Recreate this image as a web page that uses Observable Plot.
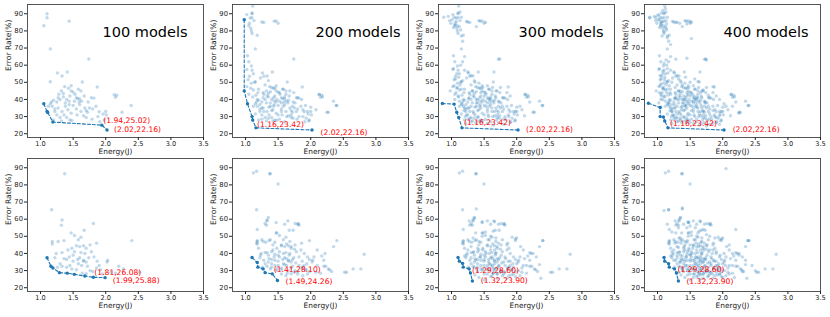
<!DOCTYPE html>
<html><head><meta charset="utf-8">
<script src="https://cdn.jsdelivr.net/npm/d3@7"></script>
<script src="https://cdn.jsdelivr.net/npm/@observablehq/plot@0.6"></script>
<style>
html,body{margin:0;padding:0;background:#fff;}
#wrap{position:relative;width:830px;height:317px;overflow:hidden;background:#fff;font-family:"DejaVu Sans",sans-serif;}
#wrap svg{position:absolute;}
</style></head>
<body><div id="wrap"></div>
<script>
// ---------- data: [energy (J), error rate (%)] ----------
const titles = ["100 models", "200 models", "300 models", "400 models"];
const xTicks = [1.0, 1.5, 2.0, 2.5, 3.0, 3.5];
const yTicks = [20, 30, 40, 50, 60, 70, 80, 90];

// top row: sampled models, added in batches of 100
const topBatch1 = [[1.10,90],[1.10,87.7],[1.05,83],[1.44,85.7],[1.15,69.5],[1.74,63.6],[1.26,55.5],[1.41,56],[1.33,53.7],[1.15,50.3],[1.64,50.2],[1.87,47.3],[1.47,48],[1.37,47.5],[1.43,46.5],[1.58,46],[1.47,45],[1.50,44.3],[1.32,45],[1.28,43],[2.13,42.8],[2.17,42.5],[2.15,41.3],[2.39,36.5],[2.25,32.5],[2.0,33],[1.78,41],[1.82,40.8],[1.57,40.5],[1.60,40.3],[1.55,41],[1.52,39],[1.44,39],[1.40,40],[1.38,38],[1.35,41.5],[1.30,40],[1.25,38.5],[1.20,39.5],[1.17,38.5],[1.18,36],[1.22,34.5],[1.15,37.5],[1.12,36],[1.27,35],[1.33,33],[1.36,31],[1.30,29.5],[1.40,29.5],[1.45,28],[1.47,32],[1.50,36.5],[1.55,34.5],[1.60,37],[1.62,33],[1.68,35],[1.70,33.5],[1.72,32.5],[1.75,35],[1.80,34.5],[1.85,36],[1.66,30.5],[1.70,29.5],[1.79,28.5],[1.88,30],[1.91,27],[1.96,31.5],[2.01,31],[1.98,28],[1.42,34],[1.25,31],[1.22,33],[1.20,28],[1.32,27.5],[1.48,27.8],[1.56,31],[1.63,39],[1.67,42],[1.73,38.5],[1.90,32.8],[1.38,36],[1.44,37],[1.53,43],[1.62,45],[1.45,42],[1.35,43.5],[1.59,38.5],[1.27,41]];
const topBatch2 = [[1.11,94.5],[1.02,89.5],[1.10,90.5],[1.07,87.5],[1.13,86],[1.06,84.5],[1.08,81.5],[1.09,80],[1.10,78.5],[1.18,77.5],[1.25,85.2],[1.28,84.9],[1.47,85.8],[1.50,84.5],[1.03,65.5],[1.05,62],[1.09,59.5],[1.02,57.5],[1.10,57],[1.12,55],[1.06,53.5],[1.04,51.5],[1.14,50],[1.09,49.5],[1.02,47.5],[1.08,46.5],[1.12,45.5],[1.05,43],[1.11,41.5],[1.16,42.5],[1.20,46],[1.23,52.5],[1.28,53.5],[1.35,51],[1.30,48.5],[1.40,47],[1.45,46.5],[1.52,44],[1.57,46],[1.62,43],[1.68,45],[1.74,44],[1.80,41],[1.86,40],[1.92,36.5],[1.95,33],[2.00,35.5],[2.08,34],[2.13,43],[2.18,41.5],[2.27,32.5],[2.35,39],[2.40,36.5],[1.18,40],[1.22,37],[1.25,35],[1.28,33],[1.32,38],[1.36,35.5],[1.40,33.5],[1.43,36],[1.47,38.5],[1.50,31],[1.55,33],[1.58,36],[1.63,30],[1.65,38],[1.70,31],[1.73,29],[1.78,33],[1.82,30],[1.88,34],[1.93,29],[1.97,27.5],[1.35,29],[1.42,27.5],[1.52,28.5],[1.60,27],[1.25,28.5],[1.15,31.5],[1.19,44],[1.27,44],[1.33,42],[1.38,44.5],[1.43,41],[1.48,40],[1.55,38],[1.60,41.5],[1.66,39.5],[1.72,36],[1.76,38]];
const topBatch3 = [[0.88,88],[0.95,88.5],[0.97,86],[0.99,84.5],[1.01,86.5],[1.04,88],[1.05,83.5],[1.03,82],[1.07,85.5],[1.09,83],[1.12,82.5],[1.14,80.5],[1.15,77],[1.13,91],[1.15,88],[1.23,85.5],[1.38,82.5],[1.42,86],[1.52,85],[1.17,74],[1.20,65],[1.17,62],[1.14,60],[1.03,58],[0.98,45],[1.06,52],[1.08,55],[1.11,53],[1.04,48],[1.09,47],[1.13,48.5],[1.07,44],[1.10,42],[1.05,40],[1.12,39],[1.15,46],[1.17,51],[1.20,57],[1.25,56],[1.30,54],[1.36,50],[1.42,49.5],[1.48,47],[1.55,48],[1.65,56],[1.72,63.5],[1.70,45],[1.75,47],[1.85,44],[1.90,42],[2.05,36],[2.12,30.5],[2.20,38.5],[1.20,35],[1.23,31],[1.28,29],[1.30,36],[1.34,32],[1.38,40],[1.41,30],[1.45,35],[1.50,42],[1.53,36],[1.57,30],[1.62,35],[1.66,33],[1.69,28],[1.74,30.5],[1.78,36],[1.83,28.5],[1.87,31],[1.98,33],[1.46,27],[1.37,26.5],[1.30,27],[1.22,26],[1.55,26],[1.64,25],[1.72,26.5],[1.80,25.5],[1.90,26.5],[1.16,37],[1.19,33.5],[1.21,30],[1.26,40.5],[1.32,45],[1.40,38],[1.45,44],[1.58,40],[1.63,47],[1.68,41],[1.72,39]];
const topBatch4 = [[0.88,87.5],[0.97,87.7],[1.00,89],[1.06,90.5],[1.08,92],[1.12,93],[1.03,86.5],[1.05,85],[1.10,85.5],[1.14,84],[1.13,81.5],[1.10,79.5],[1.07,77],[1.15,76],[1.20,72],[1.30,85],[1.34,84.5],[1.45,84],[1.50,85.5],[1.52,75.5],[1.28,63.5],[1.45,64],[1.75,63],[1.13,63],[1.10,61],[1.15,58],[1.08,56.5],[1.04,54],[1.11,51.5],[1.05,49],[1.09,46],[1.03,44],[1.06,42],[1.08,40],[1.02,38],[1.14,44],[1.18,48],[1.22,50],[1.27,47],[1.32,52],[1.38,48.5],[1.43,53],[1.50,50],[1.57,52],[1.62,50.5],[1.70,45.5],[1.78,42.5],[1.85,47.5],[1.95,40],[2.02,37.5],[2.15,36],[2.25,32],[1.18,38],[1.22,33],[1.26,37],[1.30,31.5],[1.33,40],[1.37,34],[1.40,42],[1.42,36.5],[1.46,31],[1.48,37.5],[1.52,33.5],[1.56,42],[1.60,35.5],[1.64,31.5],[1.67,36.5],[1.70,33],[1.73,38],[1.76,28],[1.80,31.5],[1.85,33.5],[1.90,29.5],[1.95,30.5],[1.35,28],[1.25,30],[1.45,29],[1.50,26.5],[1.60,28.5],[1.68,26],[1.75,24.5],[1.85,26],[1.95,25.5],[1.20,43],[1.28,41],[1.35,45],[1.42,40],[1.47,43],[1.55,39],[1.62,41],[1.66,44],[1.05,35.5],[1.16,55.5]];

// top row: Pareto fronts
const topFront1 = [[1.05,37.5],[1.10,33.0],[1.11,32.4],[1.19,26.8],[1.94,25.02],[2.02,22.16]];
const topFront2 = [[0.98,86.5],[0.98,45.0],[1.03,37.5],[1.10,30.0],[1.11,28.0],[1.16,23.42],[2.02,22.16]];
const topFront3 = [[0.86,37.6],[1.04,37.3],[1.08,32.5],[1.11,29.5],[1.16,23.42],[2.02,22.16]];
const topFront4 = [[0.86,37.8],[1.04,35.3],[1.04,30.0],[1.09,29.8],[1.11,27.5],[1.16,23.42],[2.02,22.16]];

// bottom row: sampled models, added in batches of 100
const botBatch1 = [[1.37,86.5],[1.17,65.5],[1.33,59.5],[1.32,56.5],[1.81,57.5],[1.67,53.5],[1.47,52],[1.52,50.5],[1.58,48],[1.62,49.5],[1.18,47],[1.18,45.5],[1.27,47],[1.36,47.5],[1.86,46],[2.40,47.5],[1.55,44.5],[1.60,44],[1.66,44.5],[1.76,45],[1.70,43],[1.48,43],[1.42,42],[1.52,41],[1.62,40.5],[1.78,41],[1.33,40.5],[1.24,40],[1.50,39],[1.44,38],[1.40,36.5],[1.36,37],[1.60,37.5],[1.66,36],[1.70,35],[1.74,37.5],[1.82,38],[1.87,35.5],[1.90,33],[1.86,31.5],[1.92,30.5],[2.03,36],[2.02,35],[2.20,32.5],[2.27,31],[2.15,28.5],[2.52,29],[1.30,34],[1.33,32.5],[1.45,33],[1.50,35.5],[1.58,34],[1.63,33],[1.66,35.5],[1.72,32.5],[1.76,30],[1.80,29.5],[1.55,30.5],[1.48,31],[1.40,32],[1.64,28.5],[1.70,28.2],[1.26,32],[1.22,37.5],[1.57,36.5],[1.68,40],[1.95,28],[2.08,29]];
const botBatch2 = [[1.12,87],[1.17,88],[1.38,86.5],[1.50,80.5],[1.18,54],[1.35,61],[1.33,59],[1.30,57.5],[1.47,58],[1.48,52],[1.60,57],[1.65,59],[1.73,53.5],[1.76,57.5],[1.80,57],[1.82,56.5],[1.98,47.5],[2.10,42],[2.17,38.5],[2.22,40],[2.35,44],[2.82,39.5],[2.77,31],[2.65,31],[2.55,29],[2.32,29.5],[2.29,30.5],[2.23,32.5],[2.20,36],[2.05,38],[1.98,36.5],[1.94,34],[2.10,33],[1.25,48],[1.31,46.5],[1.38,48],[1.42,45],[1.45,46.5],[1.55,45],[1.63,45.5],[1.68,47],[1.70,44],[1.75,42.5],[1.85,42],[1.90,40],[1.95,38],[1.30,40.5],[1.35,39],[1.40,41],[1.45,39.5],[1.52,38],[1.58,40],[1.63,37],[1.67,39],[1.72,36.5],[1.77,34.5],[1.82,33],[1.88,32],[1.93,30.5],[1.98,29.5],[1.35,35],[1.40,34],[1.45,36],[1.50,33],[1.55,31.5],[1.60,33.5],[1.65,30],[1.70,31.5],[1.75,29],[1.80,28],[1.88,27],[1.55,28],[1.62,27],[1.47,30],[1.38,31],[1.28,36],[1.23,39],[1.20,43],[1.17,46],[1.18,47.5]];
const botBatch3 = [[1.38,66],[1.27,59],[1.35,60.5],[1.47,58.5],[1.55,59],[1.66,58.5],[1.72,57],[1.28,56.5],[1.93,49.5],[1.98,48.5],[2.00,49],[2.37,25.5],[2.35,33.5],[2.25,40],[2.20,40.5],[2.40,47.5],[2.30,38],[2.12,37],[2.06,44],[1.20,38.5],[1.25,42],[1.30,44],[1.33,49],[1.37,52],[1.42,47],[1.47,50],[1.52,52.5],[1.56,48],[1.60,50],[1.64,53],[1.68,49],[1.72,46],[1.78,48],[1.85,45],[1.88,43],[1.30,37.5],[1.34,41],[1.37,36],[1.40,43],[1.44,38],[1.48,42],[1.50,36.5],[1.53,40],[1.57,35],[1.60,42],[1.62,38],[1.66,34],[1.68,40.5],[1.70,37],[1.73,33],[1.76,39],[1.80,35],[1.83,37],[1.86,31],[1.90,35.5],[1.95,32],[2.00,34],[2.03,30],[2.08,31.5],[2.15,33],[1.35,32],[1.40,29.5],[1.45,31],[1.50,28],[1.55,33],[1.58,30.5],[1.62,32],[1.64,28.5],[1.67,31],[1.70,28],[1.75,30],[1.78,27],[1.82,29],[1.92,27.5],[1.98,26.5],[2.05,27],[1.36,27.5],[1.42,26],[1.60,26.5],[1.70,25.5],[1.85,25.5],[1.50,24.5],[1.65,31],[1.66,42]];
const botBatch4 = [[2.05,89.5],[1.10,65],[1.17,65.5],[1.38,66.5],[1.48,58],[2.20,54],[1.35,49],[2.38,47.5],[1.15,57],[1.22,52.5],[1.28,52],[1.32,55],[1.40,57],[1.45,55],[1.50,56],[1.58,55],[1.62,52],[1.70,54],[1.75,51],[1.80,50],[1.88,49],[1.95,48],[2.10,45],[2.15,40],[2.25,39],[2.35,36],[2.30,29.5],[2.50,30],[2.45,33],[2.18,26],[2.10,28],[1.22,41],[1.27,46],[1.32,43.5],[1.36,46],[1.41,44],[1.46,47.5],[1.50,45],[1.54,43],[1.59,46],[1.63,44],[1.67,46.5],[1.71,42],[1.75,44.5],[1.80,42],[1.84,40],[1.90,41],[1.96,39],[2.02,40],[1.30,39],[1.34,35],[1.38,38.5],[1.42,35.5],[1.46,41],[1.50,39.5],[1.54,36],[1.58,38],[1.62,35],[1.66,37.5],[1.70,35],[1.74,36.5],[1.78,32],[1.82,34],[1.86,36],[1.92,33],[1.98,31],[2.04,33],[1.38,30.5],[1.43,33],[1.48,29.5],[1.52,31],[1.57,28],[1.61,29.5],[1.66,27.5],[1.72,29.5],[1.77,26.5],[1.84,28],[1.90,29],[1.96,28],[2.00,26],[1.33,29],[1.46,27.5],[1.55,26],[1.65,25],[1.25,36]];

// bottom row: Pareto fronts
const botFront1 = [[1.10,37.5],[1.16,32.5],[1.19,31.5],[1.29,28.8],[1.41,28.5],[1.52,27.8],[1.68,26.8],[1.81,26.08],[1.99,25.88]];
const botFront2 = [[1.10,37.6],[1.18,34.7],[1.19,32.0],[1.27,31.0],[1.30,28.8],[1.41,28.10],[1.49,24.26]];
const botFront3 = [[1.10,37.6],[1.12,35.5],[1.17,34.2],[1.18,32.0],[1.27,31.0],[1.29,28.60],[1.32,23.90]];
const botFront4 = [[1.10,37.6],[1.11,35.5],[1.17,34.0],[1.18,32.0],[1.26,31.0],[1.29,28.60],[1.32,23.90]];

// ---------- layout ----------
const topClouds = [topBatch1, topBatch1.concat(topBatch2), topBatch1.concat(topBatch2, topBatch3), topBatch1.concat(topBatch2, topBatch3, topBatch4)];
const botClouds = [botBatch1, botBatch1.concat(botBatch2), botBatch1.concat(botBatch2, botBatch3), botBatch1.concat(botBatch2, botBatch3, botBatch4)];
const topFronts = [topFront1, topFront2, topFront3, topFront4];
const botFronts = [botFront1, botFront2, botFront3, botFront4];

const lefts = [0, 205, 411, 617];
const tops = [0, 154];
const titleDx = [-16, -8, -11, -12];
const annTop = [[[1.5,-5],[7,0]], [[1,-3],[8.5,2.5]], [[2,-5],[8,0]], [[2,-4],[8.6,0]]];
const annBot = [[[1,-4.5],[7.6,3]], [[1.5,-4],[8,0.7]], [[1.5,-2.5],[8.4,0]], [[1,-3.4],[8,0.7]]];

const W = 215, H = 160;
const BLUE = "#1f77b4";
const FONT = "DejaVu Sans";

function panel(cloud, front, title, tdx, ann) {
  const marks = [
    Plot.frame({stroke: "#444", strokeWidth: 0.9}),
    Plot.dot(cloud, {x: d => d[0], y: d => d[1], r: 1.7, fill: BLUE, fillOpacity: 0.28, stroke: "none"}),
    Plot.line(front, {x: d => d[0], y: d => d[1], stroke: BLUE, strokeWidth: 1.1, strokeDasharray: "3,2"}),
    Plot.dot(front, {x: d => d[0], y: d => d[1], r: 1.7, fill: BLUE, stroke: "none"}),
    Plot.axisX({ticks: xTicks, tickFormat: d => d.toFixed(1), tickSize: 3, tickPadding: 0.5, fontSize: 6.6, label: null, color: "#222"}),
    Plot.axisY({ticks: yTicks, tickSize: 3, tickPadding: 1.5, fontSize: 6.8, label: null, color: "#222"}),
    Plot.text([0], {frameAnchor: "bottom", text: () => "Energy(J)", dy: 16.5, fontSize: 7.4, fill: "#222"}),
    Plot.text([0], {frameAnchor: "left", text: () => "Error Rate(%)", rotate: -90, dx: -19, fontSize: 7.6, fill: "#222"})
  ];
  const n = front.length;
  [front[n - 2], front[n - 1]].forEach((p, i) => {
    marks.push(Plot.text([p], {x: d => d[0], y: d => d[1], text: d => `(${d[0].toFixed(2)},${d[1].toFixed(2)})`,
      textAnchor: "start", dx: ann[i][0], dy: ann[i][1], fill: "red", fontSize: 7.6}));
  });
  if (title) {
    marks.push(Plot.text([title], {frameAnchor: "top-right", text: d => d, textAnchor: "end", dx: tdx, dy: 22, fontSize: 14.5, fill: "#000"}));
  }
  return Plot.plot({
    width: W, height: H,
    marginTop: 4, marginLeft: 27, marginRight: W - 203, marginBottom: H - 137,
    x: {domain: [0.8, 3.5]},
    y: {domain: [17.8, 95.4]},
    style: {background: "transparent", overflow: "visible", maxWidth: "none", fontFamily: FONT, fontSize: "7px"},
    marks
  });
}

const wrap = document.getElementById("wrap");
for (let c = 0; c < 4; c++) {
  const s1 = panel(topClouds[c], topFronts[c], titles[c], titleDx[c], annTop[c]);
  s1.style.left = lefts[c] + "px"; s1.style.top = tops[0] + "px";
  wrap.appendChild(s1);
}
for (let c = 0; c < 4; c++) {
  const s2 = panel(botClouds[c], botFronts[c], null, 0, annBot[c]);
  s2.style.left = lefts[c] + "px"; s2.style.top = tops[1] + "px";
  wrap.appendChild(s2);
}
</script>
</body></html>
